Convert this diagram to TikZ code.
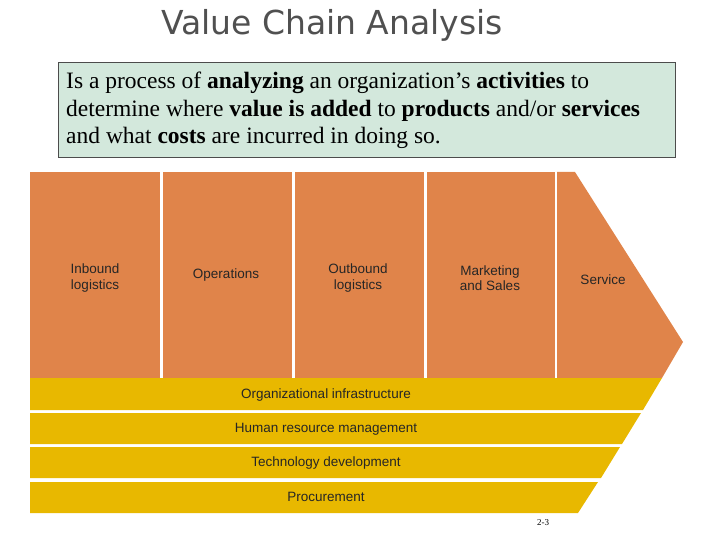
\documentclass[tikz,border=0pt]{standalone}
\usepackage{fontspec}
\setmainfont{Liberation Serif}
\newfontfamily\arial{Liberation Sans}
\newfontfamily\titlefont{DejaVu Sans}
\definecolor{org}{HTML}{E0844A}
\definecolor{yel}{HTML}{E8B800}
\definecolor{boxg}{HTML}{D3E8DC}
\definecolor{tgray}{HTML}{505050}
\begin{document}
\begin{tikzpicture}[x=1pt,y=-1pt,
  lab/.style={font=\arial\fontsize{13.5}{15.5}\selectfont, text=black!85, align=center},
  bar/.style={fill=yel, draw=none}]
\useasboundingbox (0,0) rectangle (720,540);
\node[font=\titlefont\fontsize{33}{36}\selectfont, text=tgray] (title) at (332,25) {Value Chain Analysis};
\node[draw=black!70, fill=boxg, minimum width=617, minimum height=95, anchor=north west, inner sep=0] (box) at (58,62) {};
\node[anchor=north west, align=left, font=\fontsize{23.5}{27.5}\selectfont, inner sep=0] (txt) at (66,72)
 {Is a process of \textbf{analyzing} an organization’s \textbf{activities} to\\
  determine where \textbf{value is added} to \textbf{products} and/or \textbf{services}\\
  and what \textbf{costs} are incurred in doing so.};
% primary activities
\fill[org] (30,172) rectangle (160,378);
\fill[org] (163,172) rectangle (292,378);
\fill[org] (295,172) rectangle (424,378);
\fill[org] (427,172) rectangle (555,378);
\fill[org] (557,172) -- (575,172) -- (683,342) -- (662,378) -- (557,378) -- cycle;
\node[lab] (a1) at (95,278) {Inbound\\logistics};
\node[lab] (a2) at (226,275) {Operations};
\node[lab] (a3) at (358,278) {Outbound\\logistics};
\node[lab] (a4) at (490,278) {Marketing\\and Sales};
\node[lab] (a5) at (603,280) {Service};
% support activities
\fill[bar] (30,378) -- (662,378) -- (643,410) -- (30,410) -- cycle;
\fill[bar] (30,413) -- (641,413) -- (622,444) -- (30,444) -- cycle;
\fill[bar] (30,447) -- (620,447) -- (601,478) -- (30,478) -- cycle;
\fill[bar] (30,482) -- (598,482) -- (578,513) -- (30,513) -- cycle;
\node[lab] (s1) at (326,395) {Organizational infrastructure};
\node[lab] (s2) at (326,429) {Human resource management};
\node[lab] (s3) at (326,463) {Technology development};
\node[lab] (s4) at (326,497) {Procurement};
\node[font=\fontsize{9}{10}\selectfont] (pg) at (543,523) {2-3};
\end{tikzpicture}
\end{document}
